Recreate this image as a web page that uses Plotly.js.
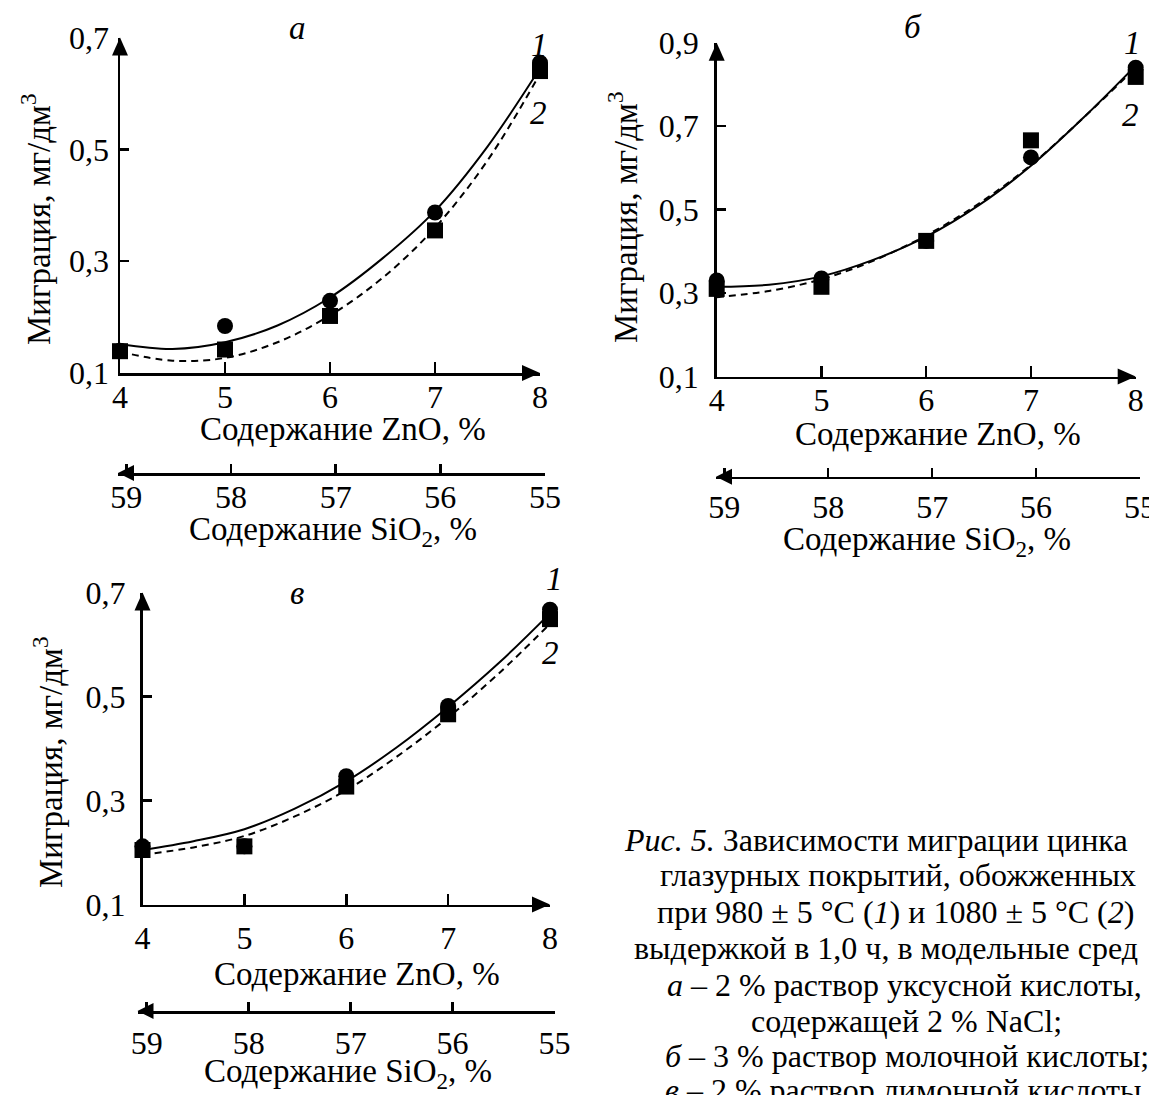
<!DOCTYPE html>
<html><head><meta charset="utf-8">
<script src="https://cdn.plot.ly/plotly-3.0.1.min.js"></script>
<style>html,body{margin:0;padding:0;background:#fff;} #chart{width:1149px;height:1095px;}</style>
</head><body><div id="chart"></div>
<script>
// ---------- data ----------
const znoTicks = [4, 5, 6, 7, 8];
const sio2Ticks = [59, 58, 57, 56, 55];
const yTicksA = [0.1, 0.3, 0.5, 0.7];
const yTicksB = [0.1, 0.3, 0.5, 0.7, 0.9];
const pointX = [4, 5, 6, 7, 8];
const fitX = [4, 4.5, 5, 5.5, 6, 6.5, 7, 7.5, 8];

// panel а
const aSeries1 = [0.140, 0.184, 0.229, 0.387, 0.655];
const aSeries2 = [0.139, 0.142, 0.202, 0.355, 0.640];
const aFit1 = [0.152, 0.143, 0.155, 0.185, 0.235, 0.305, 0.390, 0.505, 0.645];
const aFit2 = [0.138, 0.122, 0.127, 0.155, 0.203, 0.270, 0.360, 0.480, 0.635];
// panel б
const bSeries1 = [0.330, 0.335, 0.425, 0.625, 0.840];
const bSeries2 = [0.310, 0.315, 0.425, 0.666, 0.818];
const bFit1 = [0.315, 0.320, 0.340, 0.380, 0.435, 0.510, 0.605, 0.720, 0.845];
const bFit2 = [0.290, 0.305, 0.333, 0.378, 0.438, 0.514, 0.607, 0.720, 0.840];
// panel в
const cSeries1 = [0.212, 0.212, 0.347, 0.482, 0.667];
const cSeries2 = [0.205, 0.212, 0.327, 0.466, 0.649];
const cFit1 = [0.205, 0.222, 0.245, 0.285, 0.337, 0.403, 0.480, 0.565, 0.660];
const cFit2 = [0.196, 0.210, 0.232, 0.270, 0.320, 0.385, 0.460, 0.545, 0.640];

const panelLetters = ['а', 'б', 'в'];
const seriesLabels = ['1', '2'];
const yTitle = 'Миграция, мг/дм<sup>3</sup>';
const xTitle = 'Содержание ZnO, %';
const x2Title = 'Содержание SiO<sub>2</sub>, %';
const captionLines = [
  '<i>Рис. 5.</i> Зависимости миграции цинка',
  'глазурных покрытий, обожженных',
  'при 980 ± 5 °C (<i>1</i>) и 1080 ± 5 °C (<i>2</i>)',
  'выдержкой в 1,0 ч, в модельные сред',
  '<i>а</i> – 2 % раствор уксусной кислоты,',
  'содержащей 2 % NaCl;',
  '<i>б</i> – 3 % раствор молочной кислоты;',
  '<i>в</i> – 2 % раствор лимонной кислоты'
];

// ---------- layout helpers ----------
const W = 1149, H = 1095;
const PX = v => v / W;
const PY = v => 1 - v / H;
const FONT = 'Liberation Serif, Times New Roman, serif';
const BLACK = '#000';
const TICK_SIZE = 32, TITLE_SIZE = 33, CAP_SIZE = 32;

const panels = [
  {xa: 'x', ya: 'y', sx: 'x4', sy: 'y4', s1: aSeries1, s2: aSeries2, f1: aFit1, f2: aFit2,
   xdom: [120, 540], ydom: [373, 37.5], yr: [0.1, 0.7], yt: yTicksA,
   sdom: [118, 545], sline: 473, srange: [59.08, 55],
   xlabStand: -6, ylabStand: 2, slabStand: -6,
   letter: [297, 28], lab1: [539, 45], lab2: [538, 113],
   xt: [343, 429], st: [333, 531], ytl: [36, 219]},
  {xa: 'x2', ya: 'y2', sx: 'x5', sy: 'y5', s1: bSeries1, s2: bSeries2, f1: bFit1, f2: bFit2,
   xdom: [716.7, 1135.7], ydom: [376.5, 42.7], yr: [0.1, 0.9], yt: yTicksB,
   sdom: [716, 1140], sline: 476.7, srange: [59.08, 55],
   xlabStand: -6, ylabStand: 9, slabStand: 0,
   letter: [913, 27], lab1: [1132, 43], lab2: [1130, 115],
   xt: [938, 434], st: [927, 541], ytl: [623, 217]},
  {xa: 'x3', ya: 'y3', sx: 'x6', sy: 'y6', s1: cSeries1, s2: cSeries2, f1: cFit1, f2: cFit2,
   xdom: [142.5, 550], ydom: [904.6, 592.6], yr: [0.1, 0.7], yt: yTicksA,
   sdom: [137.5, 554.6], sline: 1011, srange: [59.09, 55],
   xlabStand: 3, ylabStand: 8, slabStand: 2,
   letter: [297, 593], lab1: [554, 579], lab2: [550, 653],
   xt: [357, 974], st: [348, 1073], ytl: [48, 762]}
];

const axisBase = {
  showline: true, linecolor: BLACK, linewidth: 2.5,
  ticks: 'inside', tickwidth: 2.5, tickcolor: BLACK,
  showgrid: false, zeroline: false, fixedrange: true,
  tickfont: {family: FONT, size: TICK_SIZE, color: BLACK}
};

const data = [];
const layout = {
  width: W, height: H,
  margin: {l: 0, r: 0, t: 0, b: 0},
  paper_bgcolor: '#fff', plot_bgcolor: 'rgba(0,0,0,0)',
  showlegend: false, separators: ', ',
  font: {family: FONT, color: BLACK},
  shapes: [], annotations: []
};

function ann(text, x, y, size, extra) {
  return Object.assign({text: text, x: PX(x), y: PY(y), xref: 'paper', yref: 'paper',
    showarrow: false, xanchor: 'center', yanchor: 'middle',
    font: {family: FONT, size: size, color: BLACK}}, extra || {});
}

panels.forEach(function (p, i) {
  const xk = 'xaxis' + p.xa.slice(1), yk = 'yaxis' + p.ya.slice(1);
  const sxk = 'xaxis' + p.sx.slice(1), syk = 'yaxis' + p.sy.slice(1);
  layout[xk] = Object.assign({}, axisBase, {
    domain: [PX(p.xdom[0]), PX(p.xdom[1])], range: [4, 8], anchor: p.ya,
    tickvals: znoTicks, ticklen: 11, ticklabelstandoff: p.xlabStand});
  layout[yk] = Object.assign({}, axisBase, {
    domain: [PY(p.ydom[0]), PY(p.ydom[1])], range: p.yr, anchor: p.xa,
    tickvals: p.yt, tickformat: '.1f', ticklen: 9, ticklabelstandoff: p.ylabStand});
  layout[sxk] = Object.assign({}, axisBase, {
    domain: [PX(p.sdom[0]), PX(p.sdom[1])], range: p.srange, anchor: p.sy,
    tickvals: sio2Ticks, ticklen: 9, ticklabelstandoff: p.slabStand,
    ticklabeloverflow: 'allow'});
  layout[syk] = {domain: [PY(p.sline), PY(p.sline) + 0.02], range: [0, 1], visible: false,
    anchor: p.sx, fixedrange: true};

  // invisible carrier for the SiO2 scale
  data.push({x: sio2Ticks, y: sio2Ticks.map(() => 0), xaxis: p.sx, yaxis: p.sy,
    mode: 'markers', marker: {size: 1, opacity: 0}, hoverinfo: 'skip', showlegend: false});
  // trend curves
  data.push({x: fitX, y: p.f1, xaxis: p.xa, yaxis: p.ya, mode: 'lines',
    line: {color: BLACK, width: 2, shape: 'spline', smoothing: 1}, hoverinfo: 'skip', cliponaxis: false});
  data.push({x: fitX, y: p.f2, xaxis: p.xa, yaxis: p.ya, mode: 'lines',
    line: {color: BLACK, width: 2, dash: '7px,5px', shape: 'spline', smoothing: 1}, hoverinfo: 'skip', cliponaxis: false});
  // measured points
  data.push({x: pointX, y: p.s1, xaxis: p.xa, yaxis: p.ya, mode: 'markers', name: '1',
    marker: {symbol: 'circle', size: 16, color: BLACK}, cliponaxis: false});
  data.push({x: pointX, y: p.s2, xaxis: p.xa, yaxis: p.ya, mode: 'markers', name: '2',
    marker: {symbol: 'square', size: 16, color: BLACK}, cliponaxis: false});

  // axis arrows
  layout.shapes.push({type: 'path', xref: p.xa + ' domain', yref: p.ya + ' domain',
    xsizemode: 'pixel', ysizemode: 'pixel', xanchor: 1, yanchor: 0,
    path: 'M0,0 L-18,8 L-18,-8 Z', fillcolor: BLACK, line: {width: 0}, layer: 'above'});
  layout.shapes.push({type: 'path', xref: p.xa + ' domain', yref: p.ya + ' domain',
    xsizemode: 'pixel', ysizemode: 'pixel', xanchor: 0, yanchor: 1,
    path: 'M0,0 L-8,-18 L8,-18 Z', fillcolor: BLACK, line: {width: 0}, layer: 'above'});
  layout.shapes.push({type: 'path', xref: p.sx + ' domain', yref: p.sy + ' domain',
    xsizemode: 'pixel', ysizemode: 'pixel', xanchor: 0, yanchor: 0,
    path: 'M0,0 L16,8 L16,-8 Z', fillcolor: BLACK, line: {width: 0}, layer: 'above'});

  // texts
  layout.annotations.push(ann('<i>' + panelLetters[i] + '</i>', p.letter[0], p.letter[1], TITLE_SIZE));
  layout.annotations.push(ann('<i>' + seriesLabels[0] + '</i>', p.lab1[0], p.lab1[1], TITLE_SIZE));
  layout.annotations.push(ann('<i>' + seriesLabels[1] + '</i>', p.lab2[0], p.lab2[1], TITLE_SIZE));
  layout.annotations.push(ann(xTitle, p.xt[0], p.xt[1], TITLE_SIZE));
  layout.annotations.push(ann(x2Title, p.st[0], p.st[1], TITLE_SIZE));
  layout.annotations.push(ann(yTitle, p.ytl[0], p.ytl[1], TITLE_SIZE, {textangle: -90}));
});

// caption
const capPos = [[622, 840, 'left'], [658, 875, 'left'], [655, 912, 'left'], [632, 948, 'left'],
                [665, 985, 'left'], [906, 1021, 'center'], [663, 1056, 'left'], [663, 1090, 'left']];
captionLines.forEach(function (t, k) {
  layout.annotations.push(ann(t, capPos[k][0], capPos[k][1], CAP_SIZE, {xanchor: capPos[k][2]}));
});

Plotly.newPlot('chart', data, layout, {displayModeBar: false, staticPlot: true});
</script>
</body></html>
